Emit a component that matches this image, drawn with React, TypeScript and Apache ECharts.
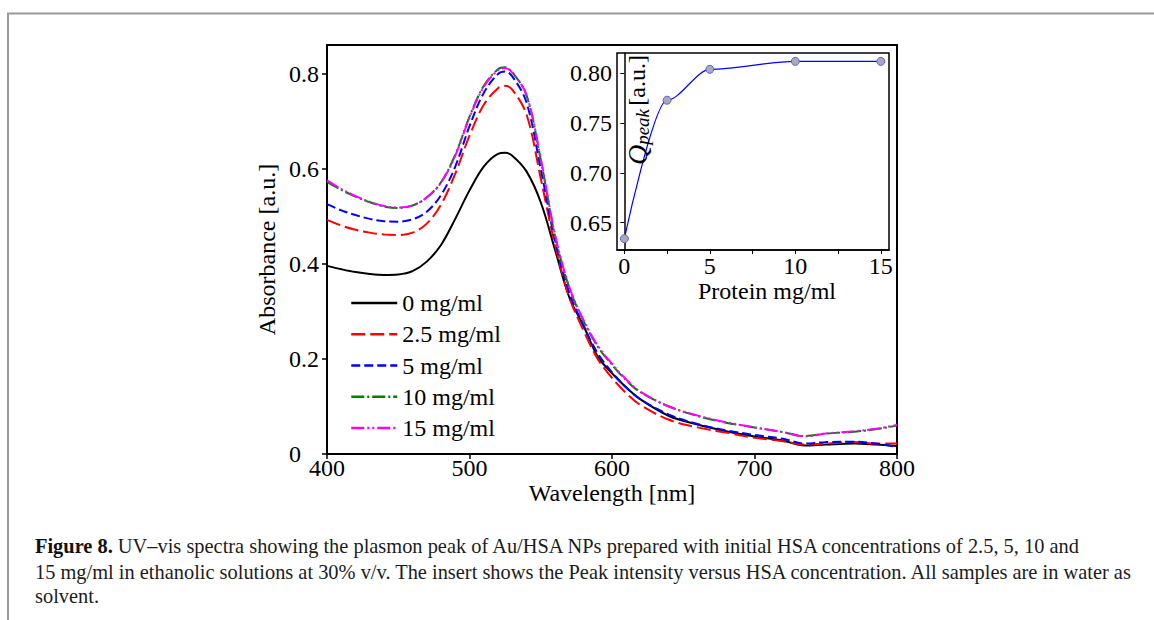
import React, { useEffect, useRef } from "react";
import * as echarts from "echarts";

// ---------- data ----------
const WAVELENGTH_NM = [400, 410, 420, 430, 440, 450, 460, 470, 480, 490, 500, 510, 520, 525, 530, 540, 550, 560, 570, 580, 590, 600, 610, 620, 640, 660, 680, 700, 720, 735, 750, 770, 785, 800];
const ABS_0 = [0.396, 0.389, 0.383, 0.379, 0.377, 0.378, 0.385, 0.405, 0.44, 0.495, 0.555, 0.605, 0.632, 0.634, 0.628, 0.595, 0.53, 0.43, 0.33, 0.27, 0.205, 0.17, 0.14, 0.115, 0.08, 0.062, 0.048, 0.037, 0.028, 0.018, 0.02, 0.022, 0.02, 0.017];
const ABS_2_5 = [0.493, 0.481, 0.472, 0.466, 0.462, 0.461, 0.466, 0.485, 0.525, 0.59, 0.67, 0.735, 0.77, 0.775, 0.767, 0.715, 0.58, 0.44, 0.33, 0.26, 0.2, 0.16, 0.128, 0.103, 0.072, 0.056, 0.045, 0.034, 0.027, 0.02, 0.022, 0.025, 0.022, 0.022];
const ABS_5 = [0.526, 0.513, 0.503, 0.495, 0.49, 0.489, 0.494, 0.51, 0.545, 0.605, 0.69, 0.76, 0.8, 0.805, 0.795, 0.74, 0.6, 0.45, 0.34, 0.27, 0.212, 0.172, 0.14, 0.115, 0.083, 0.063, 0.05, 0.04, 0.032, 0.022, 0.025, 0.026, 0.022, 0.015];
const ABS_10 = [0.573, 0.556, 0.542, 0.53, 0.521, 0.518, 0.523, 0.54, 0.572, 0.63, 0.71, 0.775, 0.81, 0.814, 0.804, 0.755, 0.62, 0.46, 0.35, 0.28, 0.226, 0.188, 0.155, 0.13, 0.1, 0.08, 0.066, 0.056, 0.046, 0.038, 0.043, 0.047, 0.052, 0.06];
const ABS_15 = [0.576, 0.558, 0.543, 0.531, 0.522, 0.519, 0.523, 0.54, 0.571, 0.628, 0.708, 0.773, 0.808, 0.812, 0.803, 0.756, 0.622, 0.462, 0.352, 0.282, 0.228, 0.19, 0.157, 0.131, 0.1, 0.081, 0.067, 0.056, 0.046, 0.037, 0.043, 0.048, 0.053, 0.061];

const SERIES_NAMES = ["0 mg/ml", "2.5 mg/ml", "5 mg/ml", "10 mg/ml", "15 mg/ml"];

const PROTEIN_MG_ML = [0, 2.5, 5, 10, 15];
const Q_PEAK = [0.634, 0.773, 0.804, 0.812, 0.812];

const MAIN_X_TICKS = [400, 500, 600, 700, 800];
const MAIN_Y_TICKS = [0, 0.2, 0.4, 0.6, 0.8];
const INSET_X_TICKS = [0, 2.5, 5, 7.5, 10, 12.5, 15];
const INSET_X_LABELS = [0, 5, 10, 15];
const INSET_Y_TICKS = [0.65, 0.7, 0.75, 0.8];

const CAPTION_LINES = [
  "{b|Figure 8.} UV–vis spectra showing the plasmon peak of Au/HSA NPs prepared with initial HSA concentrations of 2.5, 5, 10 and",
  "15 mg/ml in ethanolic solutions at 30% v/v. The insert shows the Peak intensity versus HSA concentration. All samples are in water as",
  "solvent.",
];

// ---------- styles ----------
const FONT = "Liberation Serif";
const FS = 24;
const CAPTION_FS = 20.4;
const COLORS = ["#000000", "#ff0000", "#0000ff", "#008000", "#ff00ff"];
const DASHES: any[] = ["solid", [14, 5], [9, 4], [13, 3, 2, 3], [13, 3, 2, 3, 2, 3]];

export default function App() {
  const ref = useRef<HTMLDivElement>(null);

  useEffect(() => {
    if (!ref.current) return;
    const chart = echarts.init(ref.current, null, { renderer: "svg" });
    const absSets = [ABS_0, ABS_2_5, ABS_5, ABS_10, ABS_15];

    const mainSeries = absSets.map((arr, k) => ({
      type: "line",
      name: SERIES_NAMES[k],
      xAxisIndex: 0,
      yAxisIndex: 0,
      data: WAVELENGTH_NM.map((w, i) => [w, arr[i]]),
      smooth: 0.35,
      symbol: "none",
      showSymbol: false,
      lineStyle: { color: COLORS[k], width: 2, type: DASHES[k] },
      itemStyle: { color: COLORS[k] },
      z: 2 + k,
    }));

    const axisText = { fontFamily: FONT, fontSize: FS, color: "#000" };
    const tightText = { ...axisText, lineHeight: 18 };

    const option: any = {
      animation: false,
      backgroundColor: "#fff",
      textStyle: { fontFamily: FONT },
      grid: [
        { left: 327, top: 45, width: 570, height: 409, show: true, borderColor: "#000", borderWidth: 2, backgroundColor: "transparent" },
        { left: 617, top: 53, width: 272, height: 197, show: true, borderColor: "#000", borderWidth: 1.5, backgroundColor: "#fff" },
      ],
      xAxis: [
        {
          type: "value", gridIndex: 0, min: 400, max: 800, interval: 100,
          axisLine: { lineStyle: { color: "#000", width: 2 } },
          axisTick: { length: 5, lineStyle: { color: "#000", width: 1.5 }, customValues: MAIN_X_TICKS },
          axisLabel: { ...tightText, margin: 5, customValues: MAIN_X_TICKS },
          splitLine: { show: false },
          name: "Wavelength [nm]", nameLocation: "middle", nameGap: 30, nameMoveOverlap: false,
          nameTextStyle: tightText,
        },
        {
          type: "value", gridIndex: 1, min: -0.43, max: 15.48,
          axisLine: { lineStyle: { color: "#000", width: 1.5 } },
          axisTick: { length: 4, lineStyle: { color: "#000", width: 1 }, customValues: INSET_X_TICKS },
          axisLabel: { ...tightText, margin: 7, customValues: INSET_X_LABELS },
          splitLine: { show: false },
          name: "Protein mg/ml", nameLocation: "middle", nameGap: 32, nameMoveOverlap: false,
          nameTextStyle: { ...tightText, padding: [0, 0, 0, 28] },
        },
      ],
      yAxis: [
        {
          type: "value", gridIndex: 0, min: 0, max: 0.861,
          axisLine: { lineStyle: { color: "#000", width: 2 } },
          axisTick: { length: 5, lineStyle: { color: "#000", width: 1.5 }, customValues: MAIN_Y_TICKS },
          axisLabel: {
            ...axisText, margin: 38, align: "left", customValues: MAIN_Y_TICKS,
            formatter: (v: number) => (v === 0 ? "0" : v.toFixed(1)),
          },
          splitLine: { show: false },
          name: "Absorbance [a.u.]", nameLocation: "middle", nameGap: 48, nameMoveOverlap: false,
          nameTextStyle: axisText,
        },
        {
          type: "value", gridIndex: 1, min: 0.6226, max: 0.8204,
          axisLine: { lineStyle: { color: "#000", width: 1.5 } },
          axisTick: { length: 4, lineStyle: { color: "#000", width: 1 }, customValues: INSET_Y_TICKS },
          axisLabel: {
            ...axisText, margin: 5, customValues: INSET_Y_TICKS,
            formatter: (v: number) => v.toFixed(2),
          },
          splitLine: { show: false },
        },
      ],
      legend: {
        data: SERIES_NAMES,
        orient: "vertical",
        left: 350,
        top: 291,
        itemWidth: 46,
        itemHeight: 14,
        itemGap: 7.25,
        itemStyle: { opacity: 0 },
        lineStyle: { width: 2.5 },
        textStyle: { ...axisText, lineHeight: FS },
        padding: 0,
      },
      series: [
        ...mainSeries,
        {
          type: "line",
          name: "Q_peak",
          xAxisIndex: 1,
          yAxisIndex: 1,
          data: PROTEIN_MG_ML.map((p, i) => [p, Q_PEAK[i]]),
          smooth: 0.3,
          smoothMonotone: "x",
          symbol: "circle",
          symbolSize: 8,
          lineStyle: { color: "#0000ff", width: 1.2 },
          itemStyle: { color: "#ababab", borderColor: "#5a5aff", borderWidth: 1 },
          z: 10,
        },
      ],
      graphic: [
        {
          type: "polyline",
          shape: { points: [[8, 620], [8, 13.5], [1154, 13.5]] },
          style: { stroke: "#9a9a9a", lineWidth: 2, fill: "none" },
          silent: true,
        },
        {
          type: "text",
          x: 637,
          y: 110,
          rotation: Math.PI / 2,
          z: 20,
          style: {
            text: "{q|Q}{s|peak} {n|[a.u.]}",
            align: "center",
            verticalAlign: "middle",
            fill: "#000",
            rich: {
              q: { fontFamily: FONT, fontStyle: "italic", fontSize: 28, fill: "#000" },
              s: { fontFamily: FONT, fontStyle: "italic", fontSize: 19, fill: "#000", padding: [10, 0, 0, 0] },
              n: { fontFamily: FONT, fontSize: FS, fill: "#000" },
            },
          },
        },
        ...CAPTION_LINES.map((t, i) => ({
          type: "text",
          x: 35,
          y: [546, 572, 596][i],
          style: {
            text: t,
            fontFamily: FONT,
            fontSize: CAPTION_FS,
            fill: "#1c1c1c",
            verticalAlign: "middle",
            rich: {
              b: { fontFamily: FONT, fontSize: CAPTION_FS, fontWeight: "bold", fill: "#111" },
            },
          },
        })),
      ],
    };

    chart.setOption(option);
    return () => chart.dispose();
  }, []);

  return (
    <div
      ref={ref}
      style={{ position: "fixed", left: 0, top: 0, width: 1154, height: 620, background: "#fff" }}
    />
  );
}
